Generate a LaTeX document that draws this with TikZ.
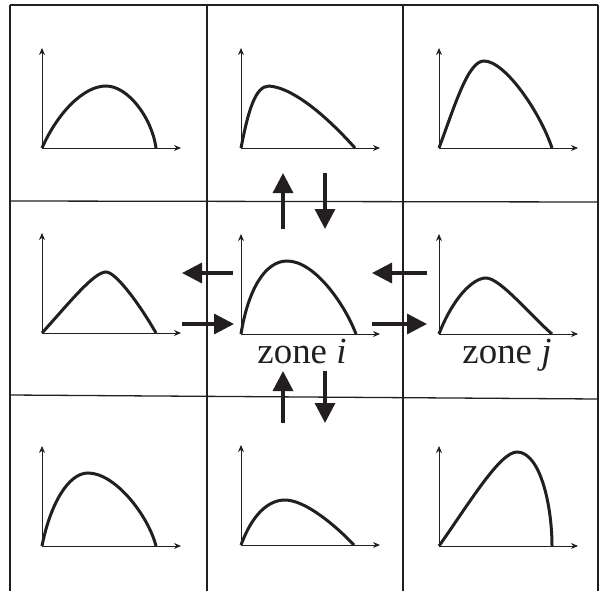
\documentclass[tikz,border=0pt]{standalone}
\usepackage{fontspec}
\setmainfont{Liberation Serif}
\usetikzlibrary{arrows.meta}
\definecolor{ink}{RGB}{35,31,32}
\begin{document}
\begin{tikzpicture}[x=1bp,y=-1bp, ink,
    grid/.style={line width=1.3bp},
    axis/.style={line width=0.9bp, -{Stealth[length=7bp,width=6bp]}},
    curve/.style={line width=3bp},
    flow/.style={line width=3.3bp, -{Triangle[length=20bp,width=20bp]}},
    lbl/.style={font=\fontsize{37}{40}\selectfont, anchor=base, inner sep=0pt}]
    \useasboundingbox (0,0) rectangle (600,591);
    % grid
    \draw[grid] (10,5) -- (598,5);
    \draw[grid] (10,201) -- (598,202);
    \draw[grid] (10,395) -- (598,399);
    \foreach \x in {10,207,403,598}
      \draw[grid] (\x,5) -- (\x,591);
    % axes of the nine cells
    \foreach \ox/\oy in {42/148,241/148,439/148,42/333,241/334,439/334,42/546,241/545,439/546} {
      \draw[axis] (\ox,\oy) -- (\ox,\oy-100);
      \draw[axis] (\ox,\oy) -- (\ox+139,\oy);
    }
    % distributions
    \draw[curve] (42,148) .. controls (58,112) and (84,86) .. (106,86) .. controls (128,86) and (152,118) .. (156,148);
    \draw[curve] (241,148) .. controls (248,112) and (255,86) .. (269,86) .. controls (295,88) and (330,120) .. (355,148);
    \draw[curve] (439,148) .. controls (455,105) and (468,61) .. (484,61) .. controls (505,61) and (540,112) .. (552,148);
    \draw[curve] (42,333) .. controls (70,302) and (94,272) .. (106,272) .. controls (116,272) and (140,305) .. (156,333);
    \draw[curve] (241,334) .. controls (248,290) and (265,261) .. (287,261) .. controls (315,261) and (345,305) .. (356,334);
    \draw[curve] (439,334) .. controls (452,300) and (472,278) .. (486,278) .. controls (500,278) and (530,315) .. (552,334);
    \draw[curve] (42,546) .. controls (50,505) and (68,473) .. (88,473) .. controls (115,473) and (148,515) .. (156,546);
    \draw[curve] (241,545) .. controls (252,515) and (268,500) .. (285,500) .. controls (305,500) and (335,525) .. (354,545);
    \draw[curve] (439,546) .. controls (470,502) and (500,452) .. (517,452) .. controls (540,452) and (552,505) .. (552,546);
    % zone labels
    \node[lbl] (zi) at (302,363) {zone \textit{i}};
    \node[lbl] (zj) at (507,363) {zone \textit{j}};
    % exchange between zones
    \foreach \n/\xa/\ya/\xb/\yb in {tu/283/229/283/173, td/325/173/325/229,
        bu/283/423/283/371, bd/325/371/325/423,
        lo/233/273/182/273, li/182/324/234/324,
        ri/427/273/372/273, ro/372/324/427/324} {
      \coordinate (\n-s) at (\xa,\ya);
      \coordinate (\n-e) at (\xb,\yb);
      \draw[flow] (\n-s) -- (\n-e);
    }
\end{tikzpicture}
\end{document}
